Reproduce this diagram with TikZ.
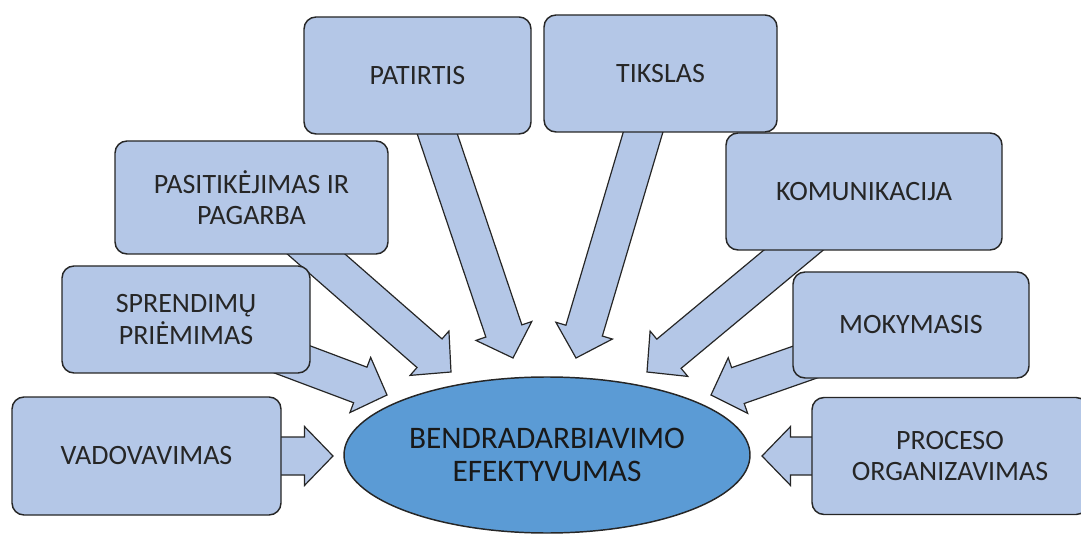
\documentclass[tikz,border=0pt]{standalone}
\usepackage{fontspec}
\setmainfont{Carlito}
\usetikzlibrary{calc,shapes.geometric}

\definecolor{boxblue}{HTML}{B4C7E7}
\definecolor{ovalblue}{HTML}{5B9BD5}

\pgfdeclarelayer{back}
\pgfsetlayers{back,main}

\tikzset{
  factor/.style={draw=black!85, line width=1.1pt, fill=boxblue, rounded corners=9pt,
    align=center, text=black!85, inner sep=0pt,
    font=\fontsize{21}{23.5}\selectfont},
  result/.style={ellipse, draw=black!85, line width=1.1pt, fill=ovalblue,
    align=center, text=black!90, inner sep=0pt,
    minimum width=304.5pt, minimum height=117pt,
    font=\fontsize{23.5}{25}\selectfont},
  blockbody/.style={draw=black!85, line width=0.9pt, fill=boxblue, line join=miter}
}

% wide arrow from a box (#1) to a tip (#2)
\newcommand{\blockarrow}[2]{%
  \coordinate (hb) at ($(#2)!21.4pt!(#1)$);
  \filldraw[blockbody] ($(#1)!14.25pt!90:(#2)$) -- ($(hb)!14.25pt!90:(#2)$)
    -- ($(hb)!22.1pt!90:(#2)$) -- (#2) -- ($(hb)!22.1pt!-90:(#2)$)
    -- ($(hb)!14.25pt!-90:(#2)$) -- ($(#1)!14.25pt!-90:(#2)$) -- cycle;
}

\begin{document}
\begin{tikzpicture}[x=0.75pt, y=-0.75pt]
  \useasboundingbox (0,0) rectangle (1081,534);

  % boxes
  \node[factor, minimum width=201.75pt, minimum height=88.5pt] (vadov) at (146.5,456) {VADOVAVIMAS};
  \node[factor, minimum width=186pt, minimum height=80.25pt] (sprend) at (186,319.5) {SPRENDIMŲ\\PRIĖMIMAS};
  \node[factor, minimum width=204.75pt, minimum height=84.75pt] (pasit) at (251.5,197.5) {PASITIKĖJIMAS IR\\PAGARBA};
  \node[factor, minimum width=170.25pt, minimum height=87.75pt] (patirt) at (417.5,75.5) {PATIRTIS};
  \node[factor, minimum width=174.75pt, minimum height=87.75pt] (tiksl) at (660.5,73.5) {TIKSLAS};
  \node[factor, minimum width=207pt, minimum height=87.75pt] (komun) at (864,191.5) {KOMUNIKACIJA};
  \node[factor, minimum width=177pt, minimum height=79.5pt] (mokym) at (911,325) {MOKYMASIS};
  \node[factor, minimum width=207pt, minimum height=87.75pt] (proces) at (950,456) {PROCESO\\ORGANIZAVIMAS};

  \node[result] (efekt) at (547,455) {BENDRADARBIAVIMO\\EFEKTYVUMAS};

  % arrow tips
  \coordinate (t1) at (333,456);
  \coordinate (t2) at (387,395);
  \coordinate (t3) at (451,372);
  \coordinate (t4) at (513,358);
  \coordinate (t5) at (576,358);
  \coordinate (t6) at (647,372);
  \coordinate (t7) at (711,395);
  \coordinate (t8) at (762,456);

  \begin{pgfonlayer}{back}
    \blockarrow{vadov}{t1}
    \blockarrow{sprend}{t2}
    \blockarrow{pasit}{t3}
    \blockarrow{patirt}{t4}
    \blockarrow{tiksl}{t5}
    \blockarrow{komun}{t6}
    \blockarrow{mokym}{t7}
    \blockarrow{proces}{t8}
  \end{pgfonlayer}
\end{tikzpicture}
\end{document}
